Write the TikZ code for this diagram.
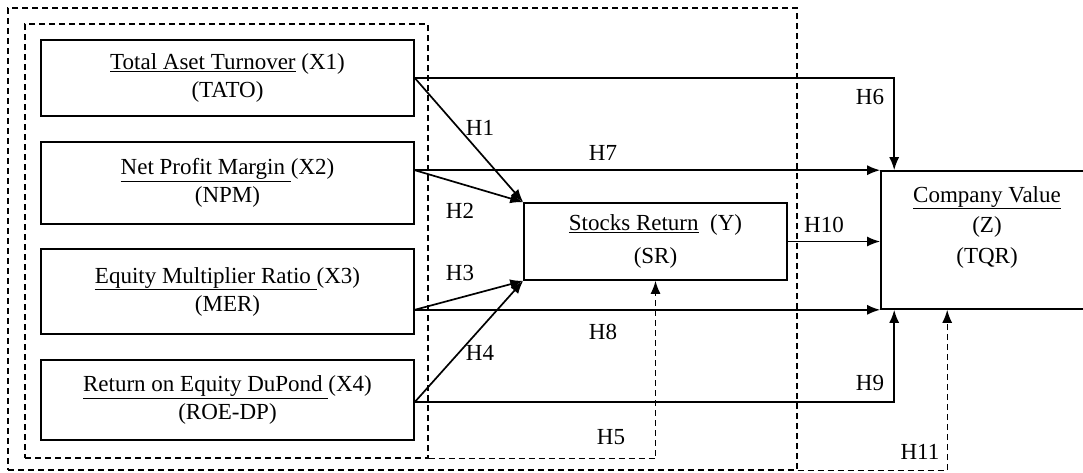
\documentclass[tikz,border=0pt]{standalone}
\usepackage{fontspec}
\setmainfont{Liberation Serif}
\usetikzlibrary{arrows.meta}
\begin{document}
\begin{tikzpicture}[x=1pt,y=-1pt,
  box/.style={draw, line width=1.6pt, inner sep=0pt, align=center, font=\fontsize{23}{28}\selectfont},
  dbox/.style={draw, line width=1.3pt, dash pattern=on 6pt off 4pt, inner sep=0pt},
  arr/.style={line width=1.7pt, -{Latex[length=13pt,width=10pt]}},
  darr/.style={line width=1.4pt, dash pattern=on 6pt off 4pt, -{Latex[length=13pt,width=10pt]}},
  lab/.style={font=\fontsize{23}{28}\selectfont, inner sep=0pt}]
\useasboundingbox (0,0) rectangle (1083,472);
\fill[white] (0,0) rectangle (1083,472);
% dashed frames
\node[dbox, minimum width=789pt, minimum height=462pt] (outer) at (402.5,239) {};
\node[dbox, minimum width=403pt, minimum height=434pt] (inner) at (226.5,241) {};
% boxes
\node[box, minimum width=373pt, minimum height=76pt] (x1) at (227.5,78) {\underline{Total Aset Turnover} (X1)\\(TATO)};
\node[box, minimum width=373pt, minimum height=82pt] (x2) at (227.5,183) {\underline{Net Profit Margin\ }(X2)\\(NPM)};
\node[box, minimum width=373pt, minimum height=85pt] (x3) at (227.5,291.5) {\underline{Equity Multiplier Ratio\ }(X3)\\(MER)};
\node[box, minimum width=373pt, minimum height=80pt] (x4) at (227.5,400) {\underline{Return on Equity DuPond\ }(X4)\\(ROE-DP)};
\node[box, minimum width=263pt, minimum height=77pt, font=\fontsize{23}{33}\selectfont] (sr) at (655.5,241.5) {\underline{Stocks Return}\ \ (Y)\\(SR)};
\node[box, minimum width=230pt, minimum height=138pt] (cv) at (996,240) {};
\node[lab, align=center, font=\fontsize{23}{30.5}\selectfont] (cvt) at (987,227) {\underline{Company Value}\\(Z)\\(TQR)};
% connectors
\draw[arr] (x1.east) -- (sr.north west);
\draw[arr] (x1.east) -| ([xshift=14pt]cv.north west);
\draw[arr] (x2.east |- cv.north west) -- (sr.north west);
\draw[arr] (x2.east |- cv.north west) -- (cv.north west);
\draw[arr] (x3.east |- cv.south west) -- (sr.south west);
\draw[arr] (x3.east |- cv.south west) -- (cv.south west);
\draw[arr] ([yshift=-2pt]x4.east) -- (sr.south west);
\draw[arr] ([yshift=-2pt]x4.east) -| ([xshift=14pt]cv.south west);
\draw[arr] (sr.east) -- (sr.east -| cv.west);
\draw[darr] (inner.south east) -- (inner.south east -| sr.south) -- (sr.south);
\draw[darr] (outer.south east) -- ([xshift=67pt]cv.south west |- outer.south east) -- ([xshift=67pt]cv.south west);
% labels
\node[lab] (l1) at (480,128) {H1};
\node[lab] (l2) at (460,211) {H2};
\node[lab] (l3) at (460,273) {H3};
\node[lab] (l4) at (480,353) {H4};
\node[lab] (l5) at (611,437) {H5};
\node[lab] (l6) at (870,97) {H6};
\node[lab] (l7) at (603,153) {H7};
\node[lab] (l8) at (603,332) {H8};
\node[lab] (l9) at (870,383) {H9};
\node[lab] (l10) at (824,225) {H10};
\node[lab] (l11) at (920,452) {H11};
\end{tikzpicture}
\end{document}
